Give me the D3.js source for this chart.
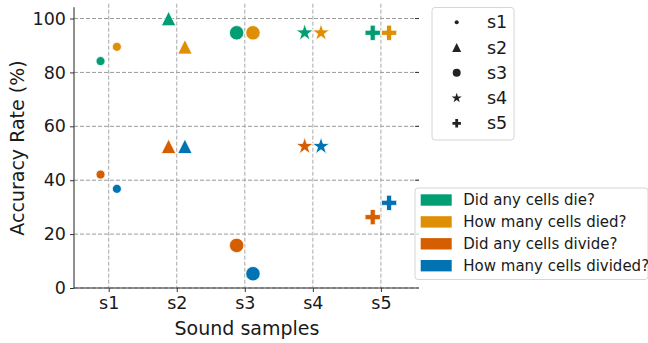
<!DOCTYPE html>
<html>
<head>
<meta charset="utf-8">
<script src="https://cdn.jsdelivr.net/npm/d3@7"></script>
<style>
  body { margin: 0; background: #fff; }
  svg { font-family: "DejaVu Sans", sans-serif; }
</style>
</head>
<body>
<div id="chart"></div>
<script>
// data
const samples = ["s1", "s2", "s3", "s4", "s5"];
const questions = ["Did any cells die?", "How many cells died?", "Did any cells divide?", "How many cells divided?"];
const colors = ["#029e73", "#de8f05", "#d55e00", "#0173b2"];
const accDie = [84.2, 100, 94.7, 94.7, 94.7];
const accHowManyDied = [89.5, 89.5, 94.7, 94.7, 94.7];
const accDivide = [42.1, 52.6, 15.8, 52.6, 26.3];
const accHowManyDivided = [36.8, 52.6, 5.3, 52.6, 31.6];
const yTicks = [0, 20, 40, 60, 80, 100];

const series = [accDie, accHowManyDied, accDivide, accHowManyDivided];
const dodge = [-0.12, 0.12, -0.12, 0.12];

const svgWidth = 648, svgHeight = 343;
const plot = {l: 74, r: 419, t: 3.7, b: 288};

const svg = d3.select("#chart").append("svg")
  .attr("width", svgWidth)
  .attr("height", svgHeight);

const x = d3.scaleLinear().domain([0.49, 5.56]).range([plot.l, plot.r]);
const y = d3.scaleLinear().domain([0, 105.5]).range([plot.b, plot.t]);

// matplotlib-like marker shapes
const triangleUp = {
  draw(ctx, size) {
    const h = Math.sqrt(size) / 2;
    ctx.moveTo(0, -h);
    ctx.lineTo(h, h);
    ctx.lineTo(-h, h);
    ctx.closePath();
  }
};
// symbol type + size per sample (plot), and smaller for the legend
const markerType = [d3.symbolCircle, triangleUp, d3.symbolCircle, d3.symbolStar, d3.symbolCross];
const markerSize = [64, 210, 163, 95, 130];
const legendSize = [13, 80, 50, 32, 40];

// grid
const grid = svg.append("g");
grid.selectAll("line.h").data(yTicks).enter().append("line")
  .attr("x1", plot.l).attr("x2", plot.r)
  .attr("y1", d => y(d)).attr("y2", d => y(d))
  .attr("stroke", "#9a9a9a").attr("stroke-width", 1)
  .attr("stroke-dasharray", "4,2");
grid.selectAll("line.v").data(samples).enter().append("line")
  .attr("x1", (d, i) => x(i + 1)).attr("x2", (d, i) => x(i + 1))
  .attr("y1", plot.t).attr("y2", plot.b)
  .attr("stroke", "#a8a8a8").attr("stroke-width", 1)
  .attr("stroke-dasharray", "4,2");
// small ticks on right edge
grid.selectAll("line.rt").data(yTicks.slice(1)).enter().append("line")
  .attr("x1", plot.r - 4).attr("x2", plot.r)
  .attr("y1", d => y(d)).attr("y2", d => y(d))
  .attr("stroke", "#333").attr("stroke-width", 1);

// axes
const leftAxis = d3.axisLeft(y).tickValues(yTicks).tickSize(4).tickPadding(4);
const bottomAxis = d3.axisBottom(x).tickValues([1, 2, 3, 4, 5])
  .tickFormat(d => samples[d - 1]).tickSize(4).tickPadding(5);

const yAxis = svg.append("g")
  .attr("transform", `translate(${plot.l},0)`)
  .call(leftAxis);
const xAxis = svg.append("g")
  .attr("transform", `translate(0,${plot.b})`)
  .call(bottomAxis);
[yAxis, xAxis].forEach(a => {
  a.select(".domain").attr("stroke", "#333").attr("stroke-width", 1.1);
  a.selectAll(".tick line").attr("stroke", "#333").attr("stroke-width", 1);
  a.selectAll(".tick text").attr("fill", "#1a1a1a")
    .attr("font-family", "DejaVu Sans").attr("font-size", "17.5px");
});
yAxis.select(".domain").attr("d", `M0,${y(104.2)}V${plot.b}`);
xAxis.select(".domain").attr("d", `M${plot.l},0H${plot.r}`);

svg.append("text")
  .attr("x", (plot.l + plot.r) / 2 + 0.5).attr("y", 335)
  .attr("text-anchor", "middle")
  .attr("font-size", "19px").attr("fill", "#1a1a1a")
  .text("Sound samples");
svg.append("text")
  .attr("transform", `translate(24,148)rotate(-90)`)
  .attr("text-anchor", "middle")
  .attr("font-size", "19px").attr("fill", "#1a1a1a")
  .text("Accuracy Rate (%)");

// points
const points = [];
series.forEach((vals, q) => {
  vals.forEach((v, i) => points.push({q: q, s: i, v: v}));
});
svg.append("g").selectAll("path")
  .data(points)
  .enter()
  .append("path")
  .attr("d", d => d3.symbol().type(markerType[d.s]).size(markerSize[d.s])())
  .attr("transform", d => `translate(${x(d.s + 1 + dodge[d.q])},${y(d.v)})`)
  .attr("fill", d => colors[d.q])
  .attr("stroke", "#fff")
  .attr("stroke-width", 0.8);

// legend: samples (marker style)
const leg1 = svg.append("g");
leg1.append("rect")
  .attr("x", 432).attr("y", 7.5).attr("width", 82).attr("height", 132.5)
  .attr("rx", 3).attr("fill", "#fff").attr("fill-opacity", 0.8)
  .attr("stroke", "#d6d6d6").attr("stroke-width", 1);
const leg1Rows = leg1.selectAll("g.row").data(samples).enter().append("g")
  .attr("transform", (d, i) => `translate(0,${22.3 + i * 25.25})`);
leg1Rows.append("path")
  .attr("d", (d, i) => d3.symbol().type(markerType[i]).size(legendSize[i])())
  .attr("transform", "translate(456.7,0)")
  .attr("fill", "#222");
leg1Rows.append("text")
  .attr("x", 487).attr("dy", "0.35em")
  .attr("font-size", "17.5px").attr("fill", "#1a1a1a")
  .text(d => d);

// legend: questions (colour)
const leg2 = svg.append("g");
leg2.append("rect")
  .attr("x", 415).attr("y", 188).attr("width", 233).attr("height", 91.5)
  .attr("rx", 3).attr("fill", "#fff").attr("fill-opacity", 0.8)
  .attr("stroke", "#d6d6d6").attr("stroke-width", 1);
const leg2Rows = leg2.selectAll("g.row").data(questions).enter().append("g")
  .attr("transform", (d, i) => `translate(0,${200 + i * 21.9})`);
leg2Rows.append("rect")
  .attr("x", 420.7).attr("y", -5.7).attr("width", 31).attr("height", 11.4)
  .attr("fill", (d, i) => colors[i]);
leg2Rows.append("text")
  .attr("x", 463.3).attr("dy", "0.35em")
  .attr("font-size", "15px").attr("fill", "#1a1a1a")
  .text(d => d);
</script>
</body>
</html>
